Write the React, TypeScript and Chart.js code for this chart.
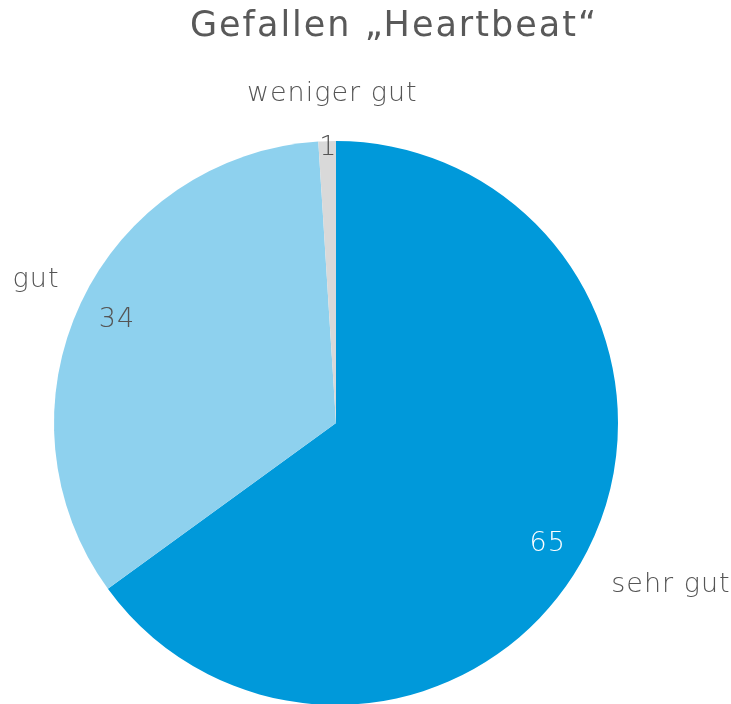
import React, { useEffect, useRef } from "react";
import { Chart, registerables } from "chart.js";

Chart.register(...registerables);

const titleText = "Gefallen „Heartbeat“";
const categories = ["sehr gut", "gut", "weniger gut"];
const values = [65, 34, 1];
const colors = ["#0099DA", "#8ED1EE", "#D9D9D9"];
const valueColors = ["#FFFFFF", "#555555", "#555555"];

const FONT = "'DejaVu Sans', sans-serif";
const TEXT_COLOR = "#555555";

const labelPlugin = {
  id: "pieLabels",
  afterDraw(chart: any) {
    const ctx = chart.ctx as any;
    const meta = chart.getDatasetMeta(0);
    const total = values.reduce((a, b) => a + b, 0);
    ctx.save();
    // title
    ctx.fillStyle = "#595959";
    ctx.font = `400 35px ${FONT}`;
    ctx.letterSpacing = "2px";
    ctx.textAlign = "center";
    ctx.textBaseline = "alphabetic";
    ctx.fillText(titleText, 394, 36);

    meta.data.forEach((arc: any, i: number) => {
      const p = arc.getProps(["x", "y", "startAngle", "endAngle", "outerRadius"], true);
      const mid = (p.startAngle + p.endAngle) / 2;
      const ux = Math.cos(mid);
      const uy = Math.sin(mid);
      const R = p.outerRadius;
      // value label
      const frac = values[i] / total;
      const rv = frac < 0.05 ? R - 7 : R * 0.862;
      const va = frac > 0.5 ? mid + 0.05 : mid;
      ctx.font = `200 27px ${FONT}`;
      ctx.letterSpacing = "1px";
      ctx.fillStyle = valueColors[i];
      ctx.textAlign = "center";
      ctx.textBaseline = "middle";
      ctx.fillText(String(values[i]), p.x + rv * Math.cos(va) + 1, p.y + rv * Math.sin(va));

      // category label
      const ro = R + 28;
      const ax = p.x + ro * ux;
      const ay = p.y + ro * uy;
      ctx.fillStyle = TEXT_COLOR;
      ctx.textBaseline = "alphabetic";
      let x = ax;
      let y: number;
      if (Math.abs(ux) < 0.3) {
        ctx.textAlign = "center";
        x = ax + 6;
        y = ay - 12;
      } else if (ux > 0) {
        ctx.textAlign = "left";
        x = ax - 1;
        y = uy > 0 ? ay + 28 : ay - 4;
      } else {
        ctx.textAlign = "right";
        x = ax + 4;
        y = uy > 0 ? ay + 28 : ay - 4;
      }
      ctx.fillText(categories[i], x, y);
    });
    ctx.restore();
  },
};

export default function App() {
  const ref = useRef<HTMLCanvasElement | null>(null);
  useEffect(() => {
    if (!ref.current) return;
    const chart = new Chart(ref.current, {
      type: "pie",
      data: {
        labels: categories,
        datasets: [
          {
            data: values,
            backgroundColor: colors,
            borderWidth: 0,
          },
        ],
      },
      options: {
        responsive: false,
        animation: false,
        layout: { padding: { left: 54, right: 113, top: 141, bottom: 15 } },
        plugins: {
          legend: { display: false },
          title: { display: false },
          tooltip: { enabled: false },
        },
      },
      plugins: [labelPlugin],
    });
    return () => chart.destroy();
  }, []);
  return (
    <div
      style={{
        position: "absolute",
        left: 0,
        top: 0,
        width: 731,
        height: 704,
        overflow: "hidden",
        background: "#fff",
      }}
    >
      <canvas ref={ref} width={731} height={720} style={{ width: 731, height: 720 }} />
    </div>
  );
}
